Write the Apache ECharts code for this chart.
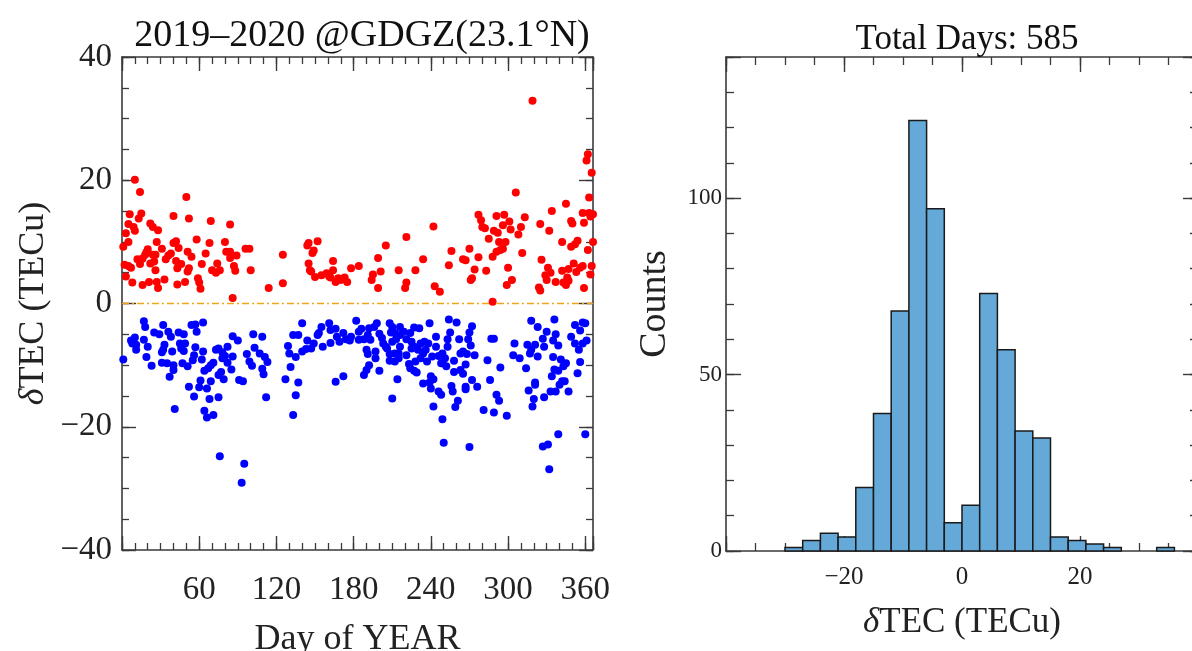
<!DOCTYPE html>
<html>
<head>
<meta charset="utf-8">
<script src="https://cdn.jsdelivr.net/npm/echarts@6/dist/echarts.min.js"></script>
<style>
html,body{margin:0;padding:0;background:#fff;}
#chart{width:1192px;height:651px;}
</style>
</head>
<body>
<div id="chart"></div>
<script>
// ---------- DATA ----------
const scatterTitle = '2019–2020 @GDGZ(23.1°N)';
const histTitle = 'Total Days: 585';
const scatterXLabels = [60, 120, 180, 240, 300, 360];
const scatterYLabels = [-40, -20, 0, 20, 40];
const histXLabels = [-20, 0, 20];
const histYLabels = [0, 50, 100];

// positive dTEC (day of year, TECu)
const redPoints = [
[10,20.1],[14,18.1],[50,17.3],[6,14.5],[15,14.6],[13,13.8],[40,14.2],[52,13.8],[69,13.4],[84,12.8],
[5,12.9],[9,12.4],[10,11.8],[3,11.4],[22,13.0],[24,12.4],[28,11.9],[5,10.0],[1,9.2],[27,10.0],
[40,9.8],[42,10.1],[58,10.4],[68,9.8],[80,10.0],[31,8.9],[20,8.8],[19,8.3],[18,7.9],[24,7.9],
[26,7.9],[38,8.1],[36,7.8],[44,9.0],[51,8.4],[54,7.6],[65,8.1],[81,8.4],[84,8.4],[84,7.4],
[89,7.8],[96,8.9],[99,8.9],[12,7.2],[16,7.3],[14,6.4],[22,6.5],[25,6.8],[34,7.2],[42,6.9],
[46,6.4],[62,6.4],[74,6.5],[2,6.3],[5,6.1],[7,5.8],[26,5.4],[43,5.7],[52,5.7],[51,5.2],
[70,5.4],[73,5.0],[76,5.4],[87,6.1],[88,5.3],[100,5.4],[3,4.4],[8,3.4],[21,3.5],[27,3.5],
[33,3.9],[16,3.0],[28,2.5],[43,3.1],[49,3.5],[59,4.1],[60,3.4],[61,2.4],[86,0.9],[114,2.5],
[125,7.9],[125,3.3],
[145,9.8],[144,9.4],[152,10.1],[149,8.6],[148,8.2],[145,6.5],[146,5.4],[147,5.2],[150,4.3],[155,4.6],
[159,4.9],[161,4.4],[164,5.4],[164,6.9],[162,4.2],[166,3.5],[168,4.1],[170,3.8],[173,4.2],[175,3.5],
[178,5.7],[184,6.1],[195,4.7],[194,3.8],[199,2.5],[199,7.4],[201,5.2],[205,9.4],[221,10.8],[215,5.4],
[221,3.4],[220,2.5],[228,5.4],[234,7.2],[242,12.5],[243,2.8],[247,1.9],
[319,32.9],[306,18.0],[362,24.2],[361,23.2],[365,21.2],[363,17.2],[345,16.2],[334,15.0],[358,14.7],[363,14.7],
[366,14.5],[364,14.1],[277,14.4],[279,13.5],[291,14.2],[297,14.4],[313,14.0],[280,12.4],[282,12.2],[296,12.7],
[301,13.3],[302,12.0],[310,12.4],[325,12.9],[332,11.8],[349,13.4],[350,13.0],[359,13.1],[289,11.8],[292,11.5],
[285,10.5],[308,11.2],[293,10.0],[298,10.0],[294,8.7],[296,8.9],[311,8.2],[291,8.4],[288,7.6],[342,10.0],
[349,9.2],[352,9.6],[354,10.2],[362,8.7],[366,10.0],[256,8.5],[270,8.9],[265,7.2],[267,7.0],[277,7.5],
[254,6.2],[274,5.5],[283,5.3],[300,5.8],[326,7.1],[331,5.8],[333,5.0],[329,4.6],[330,3.8],[337,3.5],
[342,5.3],[347,5.6],[351,6.5],[353,5.1],[356,5.8],[358,6.1],[365,6.1],[364,4.7],[346,4.2],[347,3.7],
[343,3.4],[345,3.0],[272,4.1],[271,3.8],[303,3.8],[299,3.0],[324,2.6],[325,2.1],[359,2.5],[288,0.3]
];

// negative dTEC (day of year, TECu)
const bluePoints = [
[1,-9.1],[7,-6.0],[10,-5.5],[11,-7.5],[8,-6.5],[11,-6.7],[17,-2.9],[18,-3.8],[17,-5.9],[20,-7.0],
[19,-8.7],[23,-10.1],[25,-4.7],[29,-5.0],[32,-3.5],[36,-4.6],[38,-5.4],[33,-6.7],[31,-7.9],[32,-7.5],
[31,-9.6],[35,-9.7],[40,-10.0],[40,-10.8],[37,-11.9],[39,-7.8],[44,-4.7],[48,-5.0],[45,-6.5],[49,-6.5],
[46,-7.3],[48,-7.7],[54,-3.5],[57,-3.4],[63,-3.1],[58,-4.6],[57,-7.1],[56,-8.4],[55,-9.2],[47,-9.7],
[51,-10.2],[63,-7.8],[62,-9.1],[52,-13.5],[56,-15.1],[60,-13.6],[61,-12.5],[64,-10.9],[67,-10.5],[69,-10.0],
[71,-9.6],[73,-7.5],[75,-7.3],[78,-7.9],[78,-8.9],[80,-8.5],[82,-7.0],[86,-8.6],[82,-9.6],[77,-11.1],
[75,-11.6],[79,-12.3],[69,-12.6],[66,-13.8],[68,-15.5],[75,-15.2],[64,-17.4],[66,-18.5],[71,-18.1],[41,-17.1],
[76,-24.8],[95,-26.0],[93,-29.1],[86,-5.3],[90,-6.0],[85,-10.7],[91,-12.4],[94,-12.6],[97,-8.2],[99,-9.4],
[101,-10.1],[102,-5.0],[103,-7.2],[109,-5.4],[107,-8.1],[111,-8.7],[113,-9.5],[109,-10.6],[110,-11.5],[112,-15.2],
[127,-12.3],[129,-6.9],[130,-8.1],[131,-10.3],[133,-5.1],[137,-5.1],[135,-8.7],[137,-12.8],[135,-14.9],[133,-18.1],
[140,-3.2],[144,-6.0],[140,-7.8],[143,-7.4],[147,-7.3],[149,-6.5],[152,-5.1],[153,-4.8],[155,-3.8],[156,-7.0],
[161,-3.2],[162,-4.3],[162,-6.4],[166,-4.1],[167,-5.4],[169,-6.2],[172,-4.8],[174,-5.8],[177,-6.0],[178,-5.4],
[182,-2.8],[184,-4.6],[186,-4.1],[184,-5.9],[188,-5.8],[191,-5.1],[192,-4.0],[193,-5.9],[196,-3.8],[198,-3.2],
[190,-7.5],[191,-8.2],[197,-7.8],[197,-8.9],[200,-4.9],[202,-5.6],[203,-6.5],[205,-7.0],[208,-3.2],[210,-3.8],
[209,-4.7],[212,-4.8],[213,-5.8],[210,-6.2],[206,-7.3],[208,-8.2],[212,-8.1],[208,-9.3],[212,-9.4],[200,-10.9],
[192,-10.0],[190,-10.8],[188,-11.6],[172,-11.8],[166,-12.7],[214,-12.3],[210,-15.4],[216,-3.8],[219,-4.6],[216,-5.1],
[221,-5.8],[216,-7.0],[215,-8.1],[215,-8.9],[221,-8.4],[224,-4.8],[227,-3.9],[231,-4.0],[225,-6.2],[227,-7.0],
[230,-7.5],[232,-6.5],[235,-6.2],[236,-7.5],[238,-6.5],[239,-3.2],[234,-8.1],[232,-8.9],[228,-9.4],[223,-9.8],
[224,-10.5],[227,-10.9],[229,-11.2],[234,-13.0],[240,-11.8],[242,-12.3],[239,-12.8],[240,-13.8],[244,-7.0],[246,-8.5],
[248,-9.7],[244,-5.4],[246,-14.3],[248,-14.8],[242,-16.7],[249,-18.8],[250,-22.6],[241,-8.6],[237,-9.4],[225,-7.3],
[254,-2.6],[260,-3.1],[255,-4.7],[253,-5.8],[253,-7.0],[249,-8.1],[251,-8.9],[249,-9.7],[252,-10.2],[258,-9.3],
[258,-11.1],[263,-10.8],[265,-11.4],[267,-9.9],[263,-8.1],[265,-7.8],[268,-8.2],[274,-8.4],[262,-5.8],[269,-5.8],
[271,-6.8],[270,-4.7],[272,-3.7],[272,-12.4],[276,-13.5],[267,-13.5],[267,-13.9],[256,-13.4],[257,-14.3],[261,-15.8],
[259,-16.8],[270,-23.3],[281,-17.3],[289,-17.7],[299,-18.2],[291,-14.8],[293,-15.8],[286,-12.4],[284,-9.2],[294,-10.4],
[287,-5.7],[289,-5.7],[304,-8.4],[305,-6.5],[309,-8.9],[314,-10.5],[315,-6.7],[318,-2.8],[323,-3.8],[317,-8.1],
[318,-7.5],[321,-6.7],[323,-8.6],[327,-5.7],[328,-7.0],[330,-4.6],[336,-2.6],[337,-5.0],[335,-6.0],[339,-6.8],
[335,-8.7],[341,-9.1],[336,-10.7],[339,-10.9],[343,-10.2],[345,-9.7],[334,-11.8],[342,-12.6],[344,-12.6],[340,-13.2],
[337,-14.3],[333,-14.3],[347,-14.3],[316,-14.1],[321,-12.8],[321,-13.2],[320,-15.5],[319,-16.7],[328,-15.2],[339,-21.2],
[327,-23.2],[331,-22.9],[332,-26.9],[360,-21.2],[349,-5.4],[352,-6.5],[355,-7.5],[356,-9.5],[354,-11.3],[352,-3.5],
[356,-4.4],[358,-3.1],[360,-3.2],[358,-6.5],[361,-6.0]
];

// histogram: bin start (TECu), bin width 3, counts
const binStarts = [-30,-27,-24,-21,-18,-15,-12,-9,-6,-3,0,3,6,9,12,15,18,21,24,27,30,33];
const binCounts = [1,3,5,4,18,39,68,122,97,8,13,73,57,34,32,4,3,2,1,0,0,1];
const binWidth = 3;

// ---------- CHART ----------
const FONT = 'Liberation Serif';
const AX = '#3a3a3a';
const chart = echarts.init(document.getElementById('chart'));

function fmtMinus(v){ return String(v).replace('-', '\u2212'); }

function axisGroup(dim, gi, min, max, majorInt, minorInt, labels, labelSize, labelMargin, majorLen, minorLen) {
  const pos = dim === 'x' ? ['bottom','top'] : ['left','right'];
  const out = [];
  pos.forEach((p, k) => {
    out.push({
      gridIndex: gi, type: 'value', position: p, min: min, max: max, interval: majorInt,
      axisLine: {show: true, onZero: false, lineStyle: {color: AX, width: 1.6}},
      axisTick: {show: true, inside: true, length: majorLen, lineStyle: {color: AX, width: 1.4}},
      splitLine: {show: false},
      axisLabel: {
        show: k === 0, fontFamily: FONT, fontSize: labelSize, color: '#222', margin: labelMargin,
        showMinLabel: true, showMaxLabel: true,
        formatter: v => labels.includes(v) ? fmtMinus(v) : ''
      }
    });
    out.push({
      gridIndex: gi, type: 'value', position: p, min: min, max: max, interval: minorInt,
      axisLine: {show: false, onZero: false},
      axisTick: {show: true, inside: true, length: minorLen, lineStyle: {color: AX, width: 1.3}},
      splitLine: {show: false}, axisLabel: {show: false}
    });
  });
  return out;
}

const xAxes = [].concat(
  axisGroup('x', 0, 0, 366, 60, 10, scatterXLabels, 33, 24, 14, 7),
  axisGroup('x', 1, -40, 40, 20, 5, histXLabels, 25, 14, 15, 8)
);
const yAxes = [].concat(
  axisGroup('y', 0, -40, 40, 20, 5, scatterYLabels, 33, 10, 14, 7),
  axisGroup('y', 1, 0, 140, 50, 10, histYLabels, 23, 4, 15, 8)
);
// axis names
xAxes[0].name = 'Day of YEAR';
xAxes[0].nameLocation = 'middle';
xAxes[0].nameGap = 72;
xAxes[0].nameTextStyle = {fontFamily: FONT, fontSize: 36, color: '#222'};
yAxes[0].name = '{i|δ}TEC (TECu)';
yAxes[0].nameLocation = 'middle';
yAxes[0].nameGap = 70;
yAxes[0].nameTextStyle = {fontFamily: FONT, fontSize: 36, color: '#222', rich: {i: {fontFamily: FONT, fontStyle: 'italic', fontSize: 36, color: '#222'}}};
xAxes[4].name = '{i|δ}TEC (TECu)';
xAxes[4].nameLocation = 'middle';
xAxes[4].nameGap = 54;
xAxes[4].nameTextStyle = {fontFamily: FONT, fontSize: 35, color: '#222', rich: {i: {fontFamily: FONT, fontStyle: 'italic', fontSize: 35, color: '#222'}}};
yAxes[4].name = 'Counts';
yAxes[4].nameLocation = 'middle';
yAxes[4].nameGap = 52;
yAxes[4].nameTextStyle = {fontFamily: FONT, fontSize: 38, color: '#222'};

const histData = binStarts.map((s, i) => [s, s + binWidth, binCounts[i]]).filter(d => d[2] > 0);

const option = {
  backgroundColor: '#ffffff',
  animation: false,
  title: [
    {text: scatterTitle, left: 357, top: 12, textAlign: 'center',
     textStyle: {fontFamily: FONT, fontSize: 38, fontWeight: 'normal', color: '#111'}},
    {text: histTitle, left: 962, top: 17, textAlign: 'center',
     textStyle: {fontFamily: FONT, fontSize: 35, fontWeight: 'normal', color: '#111'}}
  ],
  grid: [
    {left: 122, top: 57, width: 471, height: 493, containLabel: false, outerBoundsMode: 'none'},
    {left: 726, top: 57, width: 472, height: 494, containLabel: false, outerBoundsMode: 'none'}
  ],
  xAxis: xAxes,
  yAxis: yAxes,
  series: [
    {
      type: 'line', xAxisIndex: 0, yAxisIndex: 0, data: [[0, 0], [366, 0]],
      showSymbol: false, symbol: 'none', silent: true, z: 1,
      lineStyle: {color: '#F2A516', width: 1.6, type: [7, 3, 2, 3]}
    },
    {
      type: 'scatter', xAxisIndex: 0, yAxisIndex: 0, data: redPoints,
      symbolSize: 8, itemStyle: {color: '#FF0000', opacity: 1}, z: 3
    },
    {
      type: 'scatter', xAxisIndex: 0, yAxisIndex: 0, data: bluePoints,
      symbolSize: 8, itemStyle: {color: '#0000FF', opacity: 1}, z: 3
    },
    {
      type: 'custom', xAxisIndex: 4, yAxisIndex: 4, data: histData,
      renderItem: function (params, api) {
        const p0 = api.coord([api.value(0), api.value(2)]);
        const p1 = api.coord([api.value(1), 0]);
        return {
          type: 'rect',
          shape: {x: p0[0], y: p0[1], width: p1[0] - p0[0], height: p1[1] - p0[1]},
          style: {fill: '#64A9D8', stroke: '#1a1a1a', lineWidth: 1.5}
        };
      },
      z: 2
    }
  ]
};
chart.setOption(option);
</script>
</body>
</html>
